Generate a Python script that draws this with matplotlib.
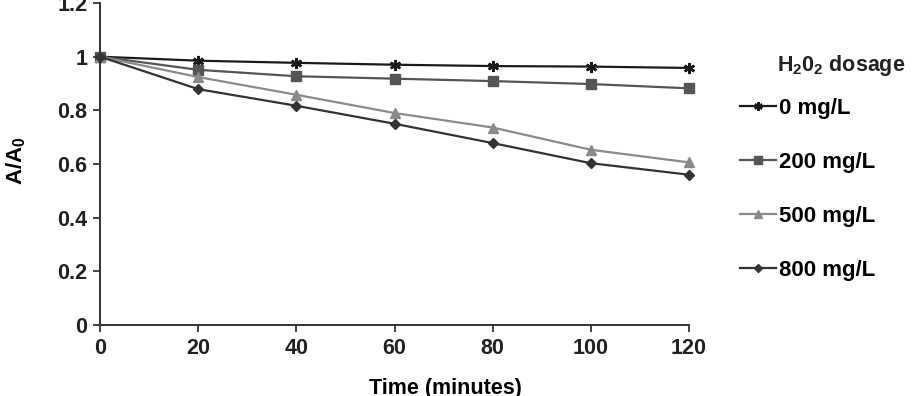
import matplotlib

matplotlib.use("Agg")
import matplotlib.pyplot as plt

plt.rcParams["font.family"] = ["Liberation Sans", "DejaVu Sans"]
plt.rcParams["font.weight"] = "bold"

time_min = [0, 20, 40, 60, 80, 100, 120]
dose_labels = ["0 mg/L", "200 mg/L", "500 mg/L", "800 mg/L"]
ratio_0 = [1.0, 0.985, 0.977, 0.970, 0.965, 0.963, 0.958]
ratio_200 = [1.0, 0.951, 0.927, 0.918, 0.909, 0.898, 0.882]
ratio_500 = [1.0, 0.924, 0.858, 0.790, 0.736, 0.653, 0.606]
ratio_800 = [1.0, 0.879, 0.817, 0.750, 0.678, 0.603, 0.560]

series = [ratio_0, ratio_200, ratio_500, ratio_800]
colors = ["#1a1a1a", "#555555", "#8a8a8a", "#333333"]
markers = [(6, 2, 0), "s", "^", "D"]
sizes = [8, 7, 7, 5.5]

W, H = 913, 396
fig = plt.figure(figsize=(W / 100, H / 100), dpi=100)
ax = fig.add_axes([100 / W, 71 / H, 589 / W, 322 / H])

for values, label, color, marker, size in zip(series, dose_labels, colors, markers, sizes):
    ax.plot(time_min, values, color=color, marker=marker, markersize=size,
            markeredgewidth=1.8 if marker == (6, 2, 0) else 1.0, linewidth=1.6,
            label=label, clip_on=False)

ax.set_xlim(0, 120)
ax.set_ylim(0, 1.2)
ax.set_xticks(time_min)
ax.set_yticks([0, 0.2, 0.4, 0.6, 0.8, 1.0, 1.2])
ax.set_yticklabels(["0", "0.2", "0.4", "0.6", "0.8", "1", "1.2"])
ax.tick_params(direction="out", length=5, width=1.2, labelsize=15.5,
               colors="#222222", pad=4)
for side in ("top", "right"):
    ax.spines[side].set_visible(False)
for side in ("left", "bottom"):
    ax.spines[side].set_linewidth(1.4)
    ax.spines[side].set_color("#333333")

ax.set_xlabel("Time (minutes)", fontsize=15.5, fontweight="bold")
ax.xaxis.set_label_coords((445 - 100) / 589, -(378 - 325) / 322)
ax.set_ylabel("A/A$_\\mathregular{0}$", fontsize=16, fontweight="bold")
ax.yaxis.set_label_coords((28 - 100) / 589, 0.51)

legend = ax.legend(loc="upper left", bbox_to_anchor=(740 / W, 1 - 98 / H),
                   bbox_transform=fig.transFigure, frameon=False,
                   fontsize=16, labelspacing=1.48, borderpad=0,
                   borderaxespad=0, handlelength=1.6, handletextpad=0.15,
                   markerscale=0.75)
fig.text(777 / W, 1 - 66 / H, "H$_\\mathregular{2}$0$_\\mathregular{2}$ dosage",
         fontsize=15.5, fontweight="bold", color="#222222", va="center", ha="left")

fig.savefig("out.png", dpi=100)
